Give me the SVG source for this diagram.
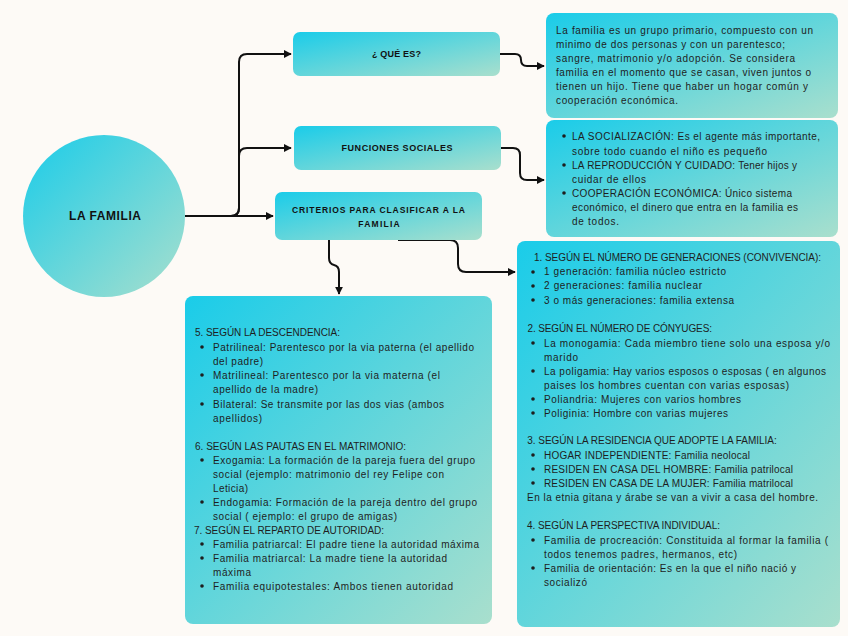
<svg xmlns="http://www.w3.org/2000/svg" width="848" height="636" viewBox="0 0 848 636">
<defs>
<linearGradient id="g" x1="0" y1="0" x2="1" y2="1">
<stop offset="0" stop-color="#1ACCE9"/>
<stop offset="1" stop-color="#A9DFCD"/>
</linearGradient>
<marker id="arr" viewBox="0 0 10 10" refX="9" refY="5" markerWidth="4" markerHeight="4" orient="auto" markerUnits="strokeWidth">
<path d="M0,0 L10,5 L0,10 Z" fill="#111"/>
</marker>
<style>
.box{fill:url(#g);}
.t{font-family:"Liberation Sans",Arial,sans-serif;font-size:10px;fill:#1e1e1e;}
.h{font-family:"Liberation Sans",Arial,sans-serif;font-weight:bold;fill:#111;text-anchor:middle;}
.c{fill:none;stroke:#111;stroke-width:2;marker-end:url(#arr);}
.b{fill:#1e1e1e;}
</style>
</defs>
<rect width="848" height="636" fill="#FDFAF6"/>

<g id="connectors">
<path class="c" d="M185,216 H231 Q239,216 239,208 V62 Q239,54 247,54 H291"/>
<path class="c" d="M185,216 H231 Q239,216 239,208 V156 Q239,148 247,148 H291"/>
<path class="c" d="M185,216 H273"/>
<path class="c" d="M500,54 H515 Q521,54 521,60 Q521,66 527,66 H544"/>
<path class="c" d="M501,148 H513 Q520,148 520,155 V173 Q520,180 527,180 H544"/>
<path class="c" d="M398,240 H450 Q458,240 458,248 V264 Q458,272 466,272 H515"/>
<path class="c" d="M329,240 V258 Q329,264 334,265 Q339,266 339,272 V294"/>
</g>

<g id="la-familia">
<circle class="box" cx="104" cy="216" r="81"/>
<text class="h" x="105" y="220" font-size="12" textLength="72">LA FAMILIA</text>
</g>

<g id="que-es">
<rect class="box" x="293" y="32" width="207" height="44" rx="7"/>
<text class="h" x="396.5" y="57" font-size="9" textLength="49">¿ QUÉ ES?</text>
</g>

<g id="funciones-sociales">
<rect class="box" x="294" y="126" width="207" height="44" rx="7"/>
<text class="h" x="397" y="151" font-size="9" textLength="111">FUNCIONES SOCIALES</text>
</g>

<g id="criterios">
<rect class="box" x="275" y="192" width="207" height="48" rx="7"/>
<text class="h" font-size="8.5"><tspan x="378.5" y="213" textLength="173">CRITERIOS PARA CLASIFICAR A LA</tspan><tspan x="379" y="227" textLength="41.5">FAMILIA</tspan></text>
</g>

<g id="definicion">
<rect class="box" x="546" y="13" width="292" height="105" rx="8"/>
<text class="t">
<tspan x="556" y="34" textLength="257">La familia es un grupo primario, compuesto con un</tspan>
<tspan x="556" y="48" textLength="229">minimo de dos personas y con un parentesco;</tspan>
<tspan x="556" y="62" textLength="239">sangre, matrimonio y/o adopción. Se considera</tspan>
<tspan x="556" y="76" textLength="255">familia en el momento que se casan, viven juntos o</tspan>
<tspan x="556" y="90" textLength="252">tienen un hijo.  Tiene que haber un hogar común y</tspan>
<tspan x="556" y="104" textLength="122">cooperación económica.</tspan>
</text>
</g>

<g id="funciones">
<rect class="box" x="546" y="120" width="292" height="117" rx="8"/>
<circle class="b" cx="564" cy="136" r="1.8"/>
<circle class="b" cx="564" cy="165" r="1.8"/>
<circle class="b" cx="564" cy="193" r="1.8"/>
<text class="t">
<tspan x="572" y="140" textLength="248">LA SOCIALIZACIÓN: Es el agente más importante,</tspan>
<tspan x="572" y="155" textLength="195">sobre todo cuando el niño es pequeño</tspan>
<tspan x="572" y="169" textLength="225">LA REPRODUCCIÓN Y CUIDADO: Tener hijos y</tspan>
<tspan x="572" y="183" textLength="74">cuidar de ellos</tspan>
<tspan x="572" y="197" textLength="220">COOPERACIÓN ECONÓMICA: Único sistema</tspan>
<tspan x="572" y="211" textLength="226">económico, el dinero que entra en la familia es</tspan>
<tspan x="572" y="225" textLength="47">de todos.</tspan>
</text>
</g>

<g id="criterios-1-4">
<rect class="box" x="517" y="241" width="323" height="386" rx="8"/>
<circle class="b" cx="533" cy="272" r="1.8"/>
<circle class="b" cx="533" cy="286" r="1.8"/>
<circle class="b" cx="533" cy="300" r="1.8"/>
<circle class="b" cx="533" cy="343" r="1.8"/>
<circle class="b" cx="533" cy="371" r="1.8"/>
<circle class="b" cx="533" cy="399" r="1.8"/>
<circle class="b" cx="533" cy="413" r="1.8"/>
<circle class="b" cx="533" cy="455" r="1.8"/>
<circle class="b" cx="533" cy="469" r="1.8"/>
<circle class="b" cx="533" cy="483" r="1.8"/>
<circle class="b" cx="533" cy="540" r="1.8"/>
<circle class="b" cx="533" cy="568" r="1.8"/>
<text class="t">
<tspan x="534" y="261" textLength="287">1. SEGÚN EL NÚMERO DE GENERACIONES (CONVIVENCIA):</tspan>
<tspan x="544" y="275" textLength="182">1 generación: familia núcleo estricto</tspan>
<tspan x="544" y="289" textLength="158">2 generaciones: familia nuclear</tspan>
<tspan x="544" y="304" textLength="190">3 o más generaciones: familia extensa</tspan>
<tspan x="527.5" y="332" textLength="184.5">2. SEGÚN EL NÚMERO DE CÓNYUGES:</tspan>
<tspan x="544" y="347" textLength="286">La monogamia: Cada miembro tiene solo una esposa y/o</tspan>
<tspan x="544" y="361" textLength="34">marido</tspan>
<tspan x="544" y="375" textLength="282">La poligamia: Hay varios esposos o esposas ( en algunos</tspan>
<tspan x="544" y="389" textLength="245">paises los hombres cuentan con varias esposas)</tspan>
<tspan x="544" y="403" textLength="197">Poliandria: Mujeres con varios hombres</tspan>
<tspan x="544" y="417" textLength="184">Poliginia: Hombre con varias mujeres</tspan>
<tspan x="527.3" y="444" textLength="249.4">3. SEGÚN LA RESIDENCIA QUE ADOPTE LA FAMILIA:</tspan>
<tspan x="544" y="459" textLength="206">HOGAR INDEPENDIENTE: Familia neolocal</tspan>
<tspan x="544" y="473" textLength="249">RESIDEN EN CASA DEL HOMBRE: Familia patrilocal</tspan>
<tspan x="544" y="487" textLength="249">RESIDEN EN CASA DE LA MUJER: Familia matrilocal</tspan>
<tspan x="527" y="501" textLength="291">En la etnia gitana y árabe se van a vivir a casa del hombre.</tspan>
<tspan x="527" y="529" textLength="193">4. SEGÚN LA PERSPECTIVA INDIVIDUAL:</tspan>
<tspan x="544" y="544" textLength="284">Familia de procreación: Constituida al formar la familia (</tspan>
<tspan x="544" y="558" textLength="193">todos tenemos padres, hermanos, etc)</tspan>
<tspan x="544" y="572" textLength="252">Familia de orientación:  Es en la que el niño nació y</tspan>
<tspan x="544" y="586" textLength="43">socializó</tspan>
</text>
</g>

<g id="criterios-5-7">
<rect class="box" x="185" y="296" width="307" height="328" rx="8"/>
<circle class="b" cx="202" cy="347" r="1.8"/>
<circle class="b" cx="202" cy="375" r="1.8"/>
<circle class="b" cx="202" cy="404" r="1.8"/>
<circle class="b" cx="202" cy="460" r="1.8"/>
<circle class="b" cx="202" cy="502" r="1.8"/>
<circle class="b" cx="202" cy="544" r="1.8"/>
<circle class="b" cx="202" cy="558" r="1.8"/>
<circle class="b" cx="202" cy="586" r="1.8"/>
<text class="t">
<tspan x="195" y="336" textLength="145">5. SEGÚN LA DESCENDENCIA:</tspan>
<tspan x="213" y="351" textLength="261">Patrilineal: Parentesco por la via paterna (el apellido</tspan>
<tspan x="213" y="365" textLength="50">del padre)</tspan>
<tspan x="213" y="379" textLength="227">Matrilineal: Parentesco por la via materna  (el</tspan>
<tspan x="213" y="393" textLength="105">apellido de la madre)</tspan>
<tspan x="213" y="408" textLength="231">Bilateral: Se transmite por las dos vias (ambos</tspan>
<tspan x="213" y="422" textLength="49">apellidos)</tspan>
<tspan x="195" y="450" textLength="211">6. SEGÚN LAS PAUTAS EN EL MATRIMONIO:</tspan>
<tspan x="213" y="464" textLength="262">Exogamia: La formación de la pareja fuera del grupo</tspan>
<tspan x="213" y="478" textLength="231">social (ejemplo: matrimonio del rey Felipe con</tspan>
<tspan x="213" y="492" textLength="35">Leticia)</tspan>
<tspan x="213" y="506" textLength="264">Endogamia: Formación de la pareja dentro del grupo</tspan>
<tspan x="213" y="520" textLength="184">social ( ejemplo: el grupo de amigas)</tspan>
<tspan x="194" y="534" textLength="190">7. SEGÚN EL REPARTO DE AUTORIDAD:</tspan>
<tspan x="213" y="548" textLength="266">Familia patriarcal: El padre tiene la autoridad máxima</tspan>
<tspan x="213" y="562" textLength="234">Familia matriarcal: La madre tiene la autoridad</tspan>
<tspan x="213" y="576" textLength="38">máxima</tspan>
<tspan x="213" y="590" textLength="240">Familia equipotestales: Ambos tienen autoridad</tspan>
</text>
</g>
</svg>
